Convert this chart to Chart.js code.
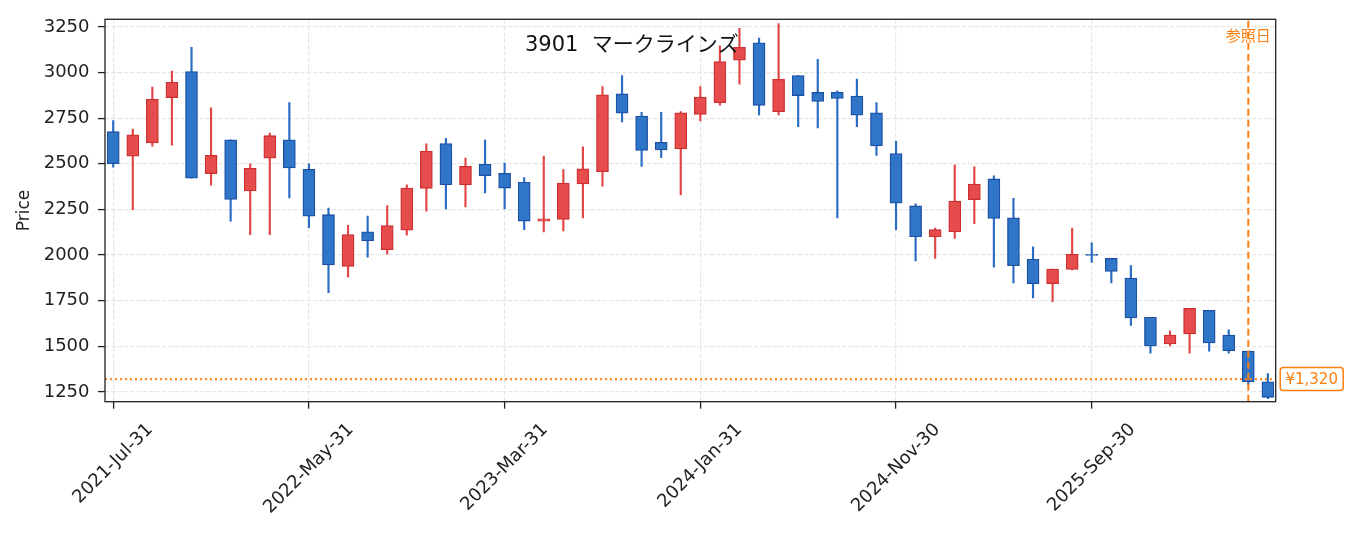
<!DOCTYPE html>
<html>
<head>
<meta charset="utf-8">
<script src="https://cdn.jsdelivr.net/npm/chart.js@4.4.1/dist/chart.umd.min.js"></script>
<style>
  html, body { margin: 0; padding: 0; background: #fff; }
</style>
</head>
<body>
<canvas id="candleChart" width="1355" height="533"></canvas>
<script>
// monthly candles, month-end dates
const dates = [
  '2021-Jul-31','2021-Aug-31','2021-Sep-30','2021-Oct-31','2021-Nov-30','2021-Dec-31',
  '2022-Jan-31','2022-Feb-28','2022-Mar-31','2022-Apr-30','2022-May-31','2022-Jun-30',
  '2022-Jul-31','2022-Aug-31','2022-Sep-30','2022-Oct-31','2022-Nov-30','2022-Dec-31',
  '2023-Jan-31','2023-Feb-28','2023-Mar-31','2023-Apr-30','2023-May-31','2023-Jun-30',
  '2023-Jul-31','2023-Aug-31','2023-Sep-30','2023-Oct-31','2023-Nov-30','2023-Dec-31',
  '2024-Jan-31','2024-Feb-29','2024-Mar-31','2024-Apr-30','2024-May-31','2024-Jun-30',
  '2024-Jul-31','2024-Aug-31','2024-Sep-30','2024-Oct-31','2024-Nov-30','2024-Dec-31',
  '2025-Jan-31','2025-Feb-28','2025-Mar-31','2025-Apr-30','2025-May-31','2025-Jun-30',
  '2025-Jul-31','2025-Aug-31','2025-Sep-30','2025-Oct-31','2025-Nov-30','2025-Dec-31',
  '2026-Jan-31','2026-Feb-28','2026-Mar-31','2026-Apr-30','2026-May-31','2026-Jun-30'
];
const opens = [
  2676, 2542, 2614, 2863, 3006, 2446, 2632, 2352, 2531, 2632, 2470, 2221,
  1937, 2127, 2029, 2136, 2365, 2611, 2385, 2497, 2448, 2399, 2186, 2195,
  2390, 2457, 2883, 2762, 2618, 2582, 2771, 2835, 3068, 3163, 2786, 2984,
  2892, 2892, 2871, 2779, 2556, 2269, 2100, 2127, 2304, 2417, 2204, 1977,
  1843, 1921, 2004, 1982, 1874, 1659, 1513, 1567, 1697, 1561, 1473, 1305
];
const highs = [
  2737, 2690, 2921, 3008, 3138, 2807, 2632, 2500, 2668, 2835, 2500, 2257,
  2163, 2213, 2271, 2385, 2609, 2640, 2531, 2630, 2504, 2425, 2542, 2468,
  2593, 2923, 2983, 2782, 2782, 2786, 2923, 3147, 3243, 3189, 3268, 2984,
  3073, 2900, 2965, 2835, 2623, 2280, 2148, 2495, 2484, 2434, 2311, 2045,
  1923, 2148, 2067, 1982, 1942, 1659, 1585, 1708, 1697, 1590, 1473, 1350
];
const lows = [
  2482, 2248, 2596, 2602, 2421, 2383, 2186, 2112, 2112, 2313, 2150, 1793,
  1879, 1988, 2005, 2109, 2240, 2253, 2264, 2340, 2253, 2139, 2127, 2132,
  2204, 2378, 2730, 2486, 2533, 2329, 2735, 2822, 2936, 2768, 2768, 2703,
  2697, 2204, 2703, 2546, 2139, 1968, 1982, 2091, 2172, 1933, 1847, 1765,
  1744, 1918, 1960, 1847, 1614, 1462, 1502, 1462, 1473, 1462, 1290, 1213
];
const closes = [
  2500, 2659, 2854, 2947, 2421, 2546, 2305, 2475, 2654, 2477, 2213, 1946,
  2112, 2078, 2161, 2367, 2569, 2385, 2486, 2435, 2367, 2186, 2199, 2394,
  2472, 2878, 2777, 2573, 2576, 2780, 2865, 3060, 3138, 2820, 2963, 2874,
  2842, 2858, 2766, 2598, 2284, 2100, 2139, 2296, 2389, 2201, 1941, 1843,
  1923, 2004, 1998, 1910, 1655, 1502, 1561, 1708, 1518, 1476, 1305, 1220
];
const yTicks = [1250, 1500, 1750, 2000, 2250, 2500, 2750, 3000, 3250];
const xTickDates = ['2021-Jul-31', '2022-May-31', '2023-Mar-31', '2024-Jan-31', '2024-Nov-30', '2025-Sep-30'];
const refDate = '2026-May-31';
const refPrice = 1320;
const chartTitle = '3901  マークラインズ';

const FONT = "'DejaVu Sans', 'Noto Sans CJK JP', sans-serif";
const RED = '#e74c4c', RED_EDGE = '#cc2f2f', RED_WICK = '#e34646';
const BLUE = '#2f76c9', BLUE_EDGE = '#1c50a3', BLUE_WICK = '#2a6cc4';
const ORANGE = '#ff7f0e';

const xTickIdx = xTickDates.map(d => dates.indexOf(d));
const refIdx = dates.indexOf(refDate);
const isUp = i => closes[i] >= opens[i];

const bodies = dates.map((_, i) => ({ x: i, y: [opens[i], closes[i]] }));
const wicks = dates.map((_, i) => ({ x: i, y: [lows[i], highs[i]] }));

const X_MIN = -0.42, X_MAX = 59.4;
const Y_MIN = 1196, Y_MAX = 3292;

// frame, title, rotated date labels and reference tags
const decor = {
  id: 'decor',
  afterDatasetsDraw(chart) {
    const { ctx, chartArea: a, scales: { x, y } } = chart;
    ctx.save();
    ctx.strokeStyle = '#222';
    ctx.lineWidth = 1.3;
    ctx.strokeRect(a.left, a.top, a.right - a.left, a.bottom - a.top);

    ctx.fillStyle = '#111';
    ctx.font = '21px ' + FONT;
    ctx.textAlign = 'center';
    ctx.textBaseline = 'middle';
    ctx.fillText(chartTitle, a.left + 0.45 * (a.right - a.left), a.top + 26);

    // 参照日
    ctx.fillStyle = ORANGE;
    ctx.font = '15px ' + FONT;
    ctx.fillText('参照日', x.getPixelForValue(refIdx), a.top + 18);

    // price tag
    const py = y.getPixelForValue(refPrice);
    const bx = a.right + 4.5, bw = 63, bh = 23;
    ctx.fillStyle = '#fff';
    ctx.strokeStyle = ORANGE;
    ctx.lineWidth = 1.5;
    ctx.beginPath();
    ctx.roundRect(bx, py - bh / 2, bw, bh, 3);
    ctx.fill();
    ctx.stroke();
    ctx.fillStyle = ORANGE;
    ctx.font = '15px ' + FONT;
    ctx.fillText('¥1,320', bx + bw / 2, py + 1);

    // y label
    ctx.fillStyle = '#222';
    ctx.font = '17px ' + FONT;
    ctx.save();
    ctx.translate(25, (a.top + a.bottom) / 2);
    ctx.rotate(-Math.PI / 2);
    ctx.fillText('Price', 0, 0);
    ctx.restore();

    // x labels, rotated 45deg and centred on their tick
    ctx.font = '18px ' + FONT;
    xTickIdx.forEach((idx, k) => {
      const w = ctx.measureText(xTickDates[k]).width;
      const px = x.getPixelForValue(idx);
      const cy = a.bottom + 21 + (w + 12) * 0.7071 / 2;
      ctx.save();
      ctx.translate(px, cy);
      ctx.rotate(-Math.PI / 4);
      ctx.fillText(xTickDates[k], 0, 0);
      ctx.restore();
    });
    ctx.restore();
  }
};

const ctx = document.getElementById('candleChart').getContext('2d');

new Chart(ctx, {
  type: 'bar',
  data: {
    datasets: [
      {
        label: 'body',
        data: bodies,
        grouped: false,
        order: 1,
        barThickness: 12,
        borderWidth: 1.3,
        borderSkipped: false,
        backgroundColor: c => isUp(c.dataIndex) ? RED : BLUE,
        borderColor: c => isUp(c.dataIndex) ? RED_EDGE : BLUE_EDGE
      },
      {
        label: 'wick',
        data: wicks,
        grouped: false,
        order: 2,
        barThickness: 1.5,
        borderWidth: 0,
        backgroundColor: c => isUp(c.dataIndex) ? RED_WICK : BLUE_WICK
      },
      {
        type: 'line',
        label: 'refPrice',
        data: [{ x: X_MIN, y: refPrice }, { x: X_MAX, y: refPrice }],
        order: 0,
        borderColor: 'rgba(255,127,14,0.9)',
        borderWidth: 2.2,
        borderDash: [2, 3],
        pointRadius: 0
      },
      {
        type: 'line',
        label: 'refDate',
        data: [{ x: refIdx, y: Y_MIN }, { x: refIdx, y: Y_MAX }],
        order: 0,
        borderColor: ORANGE,
        borderWidth: 2,
        borderDash: [7, 4],
        pointRadius: 0
      }
    ]
  },
  options: {
    responsive: false,
    animation: false,
    layout: { padding: { left: 0, top: 15, right: 79.3, bottom: 0 } },
    plugins: { legend: { display: false }, tooltip: { enabled: false } },
    scales: {
      x: {
        type: 'linear',
        min: X_MIN,
        max: X_MAX,
        offset: false,
        grid: { offset: false, color: '#e6e6e6', lineWidth: 1.2, tickLength: 7, tickColor: '#222', tickWidth: 1.3 },
        border: { display: false, dash: [4.4, 1.9] },
        ticks: { display: false },
        afterBuildTicks: s => { s.ticks = xTickIdx.map(v => ({ value: v })); },
        afterFit: s => { s.height = 533 - 401.7; }
      },
      y: {
        min: Y_MIN,
        max: Y_MAX,
        grid: { color: '#e6e6e6', lineWidth: 1.2, tickLength: 7, tickColor: '#222', tickWidth: 1.3 },
        border: { display: false, dash: [4.4, 1.9] },
        ticks: { color: '#222', padding: 8.5, font: { family: FONT, size: 18 }, callback: v => String(v) },
        afterBuildTicks: s => { s.ticks = yTicks.map(v => ({ value: v })); },
        afterFit: s => { s.width = 105; }
      }
    }
  },
  plugins: [decor]
});
</script>
</body>
</html>
